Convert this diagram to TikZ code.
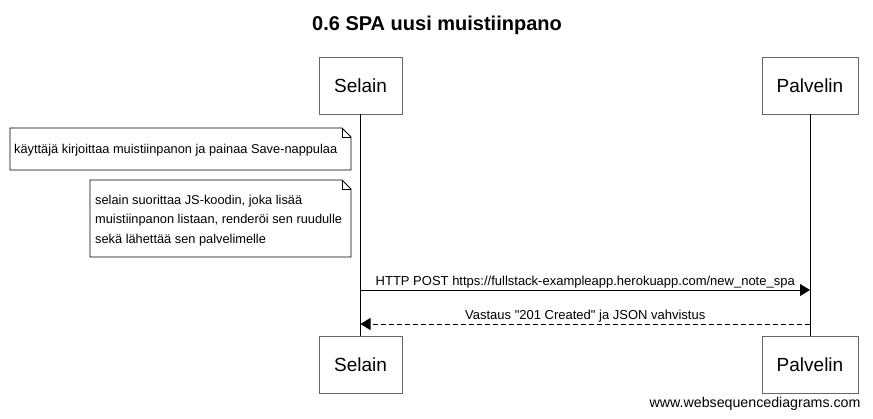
\documentclass[tikz,border=0pt]{standalone}
\usepackage{fontspec}
\setmainfont{Liberation Sans}
\usetikzlibrary{arrows.meta}
\begin{document}
\begin{tikzpicture}[x=1pt,y=-1pt,
        actor/.style={draw=black!60,thick,rectangle,minimum width=83pt,minimum height=57pt,inner sep=0pt,font=\fontsize{19}{21}\selectfont},
        notebox/.style={rectangle,inner sep=0pt,align=left,anchor=north west,font=\fontsize{12.8}{19.5}\selectfont},
        msg/.style={font=\fontsize{13}{15}\selectfont,inner sep=1pt},
        line/.style={black,line width=0.8pt}
      ]
      \useasboundingbox (0,0) rectangle (873,418);
      \node[font=\bfseries\fontsize{20}{22}\selectfont] (title) at (437,25) {0.6 SPA uusi muistiinpano};
      \node[actor] (selain) at (360.5,85.5) {Selain};
      \node[actor,minimum width=96pt] (palvelin) at (810,85.5) {Palvelin};
      \node[actor] (selainb) at (360.5,365) {Selain};
      \node[actor,minimum width=96pt] (palvelinb) at (810,365) {Palvelin};
      \draw[line] (selain) -- (selainb);
      \draw[line] (palvelin) -- (palvelinb);
      % notes
      \draw[line,fill=white] (10,128) -- (342,128) -- (351,137) -- (351,170) -- (10,170) -- cycle;
      \draw[line] (342,128) -- (342,137) -- (351,137);
      \node[notebox] (note1) at (14,144) {käyttäjä kirjoittaa muistiinpanon ja painaa Save-nappulaa};
      \draw[line,fill=white] (90,180) -- (342,180) -- (351,189) -- (351,257) -- (90,257) -- cycle;
      \draw[line] (342,180) -- (342,189) -- (351,189);
      \node[notebox] (note2) at (95,195) {selain suorittaa JS-koodin, joka lisää\\muistiinpanon listaan, renderöi sen ruudulle\\sekä lähettää sen palvelimelle};
      % messages
      \draw[line,-{Triangle[length=10pt,width=12pt]}] (selain |- 0,290) -- node[msg,above] {HTTP POST https://fullstack-exampleapp.herokuapp.com/new\_note\_spa} (palvelin |- 0,290);
      \draw[line,dash pattern=on 5pt off 3pt,-{Triangle[length=10pt,width=12pt]}] (palvelin |- 0,324) -- node[msg,above] {Vastaus \textquotedbl 201 Created\textquotedbl{} ja JSON vahvistus} (selain |- 0,324);
      \node[font=\fontsize{14.2}{16}\selectfont,anchor=base east] (wsd) at (864,407) {www.websequencediagrams.com};
    \end{tikzpicture}
\end{document}
